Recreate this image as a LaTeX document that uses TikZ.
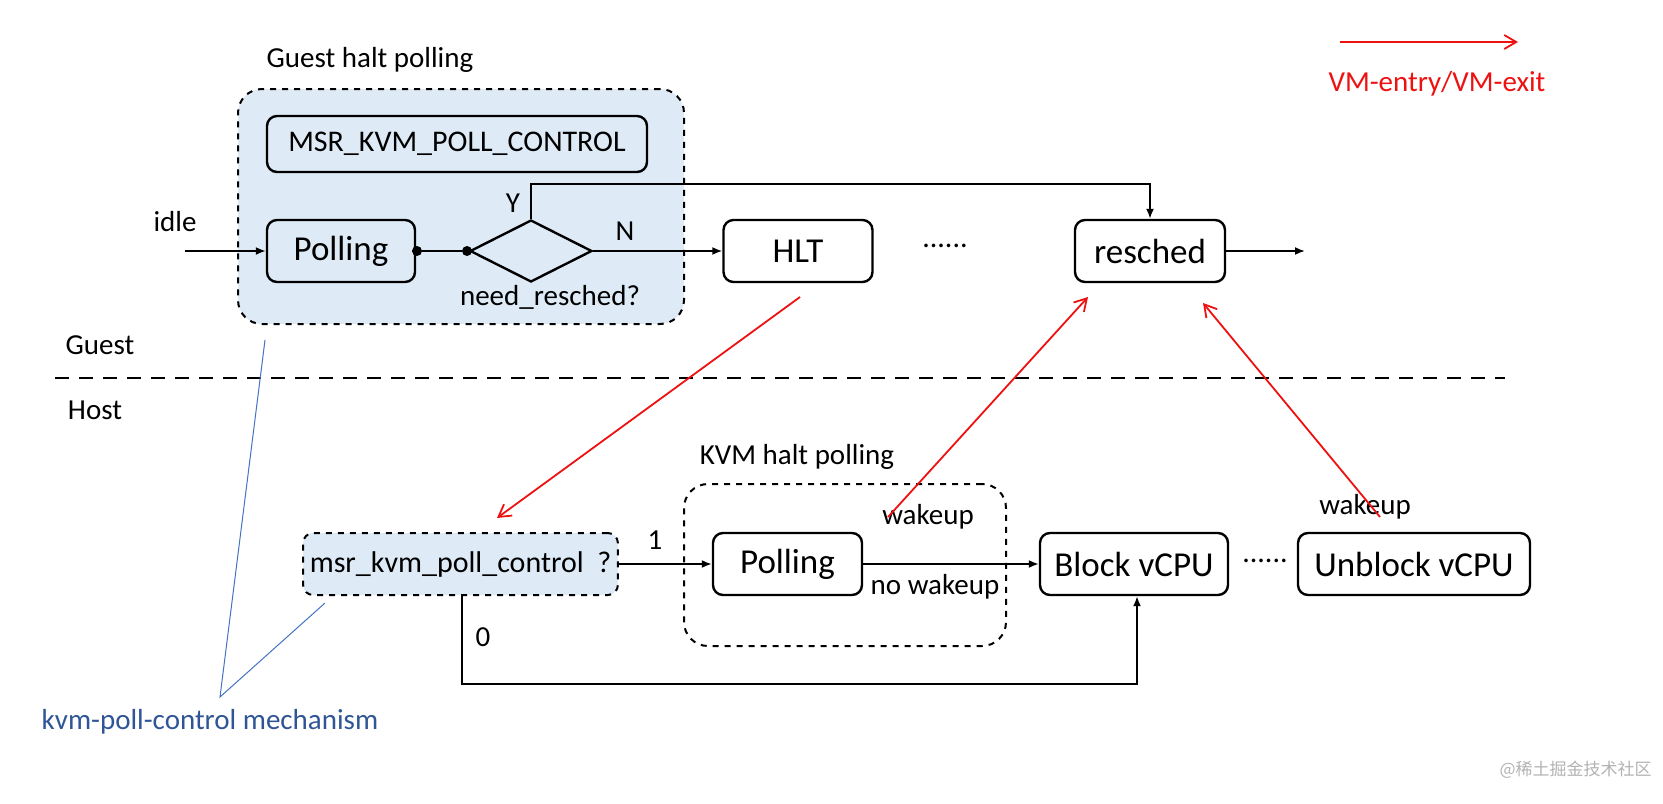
\documentclass[tikz,border=0pt]{standalone}
\usepackage{fontspec}
\setmainfont{Carlito}
\newfontfamily\cjk{Noto Sans CJK SC}
\usetikzlibrary{shapes.geometric,arrows.meta}
\definecolor{fillb}{HTML}{DEEBF7}
\definecolor{redc}{HTML}{EE1111}
\definecolor{bluel}{HTML}{4472C4}
\definecolor{bluet}{HTML}{2F5597}
\begin{document}
\begin{tikzpicture}[x=0.5pt,y=-0.5pt,
 box/.style={draw,line width=1.2pt,rounded corners=5pt,font=\fontsize{17.5}{19}\selectfont},
 dbox/.style={draw,dashed,line width=1pt,rounded corners=12pt},
 lbl/.style={font=\fontsize{14.5}{16}\selectfont},
 arr/.style={line width=0.9pt,-{Latex[length=5pt,width=4pt]}},
 rarr/.style={redc,line width=0.9pt,-{Straight Barb[length=6pt,width=7pt]}},
 dot/.style={circle,fill,inner sep=0pt,minimum size=5pt}]
\useasboundingbox (0,0) rectangle (1663,803);
% guest box
\node[dbox,fill=fillb,minimum width=223pt,minimum height=117.5pt,anchor=north west] (gbox) at (237,88) {};
\node[lbl] (gt) at (370,60) {Guest halt polling};
\node[box,minimum width=190pt,minimum height=28pt,font=\fontsize{15}{17}\selectfont] (msr) at (457,144) {MSR\_KVM\_POLL\_CONTROL};
\node[box,minimum width=74pt,minimum height=31pt] (gpoll) at (341,251) {Polling};
\node[dot] (d1) at (417,251) {};
\node[dot] (d2) at (467,251) {};
\node[draw,diamond,line width=1.2pt,minimum width=61pt,minimum height=31pt,inner sep=0pt,aspect=2] (dia) at (531,251) {};
\node[lbl] (yl) at (513,203) {Y};
\node[lbl] (nl) at (625,231) {N};
\node[lbl] (nr) at (550,297) {need\_resched?};
\node[lbl] (idle) at (175,222) {idle};
\coordinate (idst) at (185,251);
\node[box,minimum width=74.5pt,minimum height=31pt] (hlt) at (798,251) {HLT};
\node[font=\fontsize{15}{17}\selectfont] (dots1) at (945,246) {......};
\node[box,minimum width=75pt,minimum height=31pt] (res) at (1150,251) {resched};
\coordinate (resout) at (1305,251);
\draw[arr] (idst) -- (gpoll.west);
\draw[line width=0.9pt] (gpoll.east) -- (d1) -- (d2) -- (dia.west);
\draw[arr] (dia.east) -- (hlt.west);
\draw[arr] (dia.north) |- (1150,184) -- (res.north);
\draw[arr] (res.east) -- (resout);
% legend
\coordinate (lg1) at (1340,42); \coordinate (lg2) at (1518,42);
\draw[rarr] (lg1) -- (lg2);
\node[lbl,text=redc] (lgt) at (1437,84) {VM-entry/VM-exit};
% divider
\draw[dashed,line width=1pt,dash pattern=on 7pt off 5pt] (55,378) coordinate (dv1) -- (1505,378) coordinate (dv2);
\node[lbl] (guest) at (100,345) {Guest};
\node[lbl] (host) at (95,410) {Host};
% host
\node[dbox,minimum width=161pt,minimum height=81pt,anchor=north west] (kbox) at (683,483) {};
\node[lbl] (kt) at (797,457) {KVM halt polling};
\node[draw,dashed,line width=1pt,rounded corners=5pt,fill=fillb,minimum width=156.5pt,minimum height=31pt,font=\fontsize{15}{17}\selectfont] (mk) at (460.5,564) {msr\_kvm\_poll\_control~~?};
\node[box,minimum width=74.5pt,minimum height=31pt] (hpoll) at (787.5,564) {Polling};
\node[box,minimum width=94pt,minimum height=31pt] (blk) at (1134,564) {Block vCPU};
\node[font=\fontsize{15}{17}\selectfont] (dots2) at (1265,561) {......};
\node[box,minimum width=116pt,minimum height=31pt] (unb) at (1414,564) {Unblock vCPU};
\node[lbl] (one) at (655,540) {1};
\node[lbl] (zero) at (483,637) {0};
\node[lbl] (nw) at (935,587) {no wakeup};
\node[lbl] (wk1) at (928,517) {wakeup};
\node[lbl] (wk2) at (1365,507) {wakeup};
\draw[arr] (mk.east) -- (hpoll.west);
\draw[arr] (hpoll.east) -- (blk.west);
\draw[arr] (mk.south -| 462,0) -- (462,684) -- (1137,684) -- (blk.south -| 1137,0);
% red
\draw[rarr] (800,297) coordinate (r1) -- (497,518) coordinate (r2);
\draw[rarr] (888,517) coordinate (r3) -- (1088,297) coordinate (r4);
\draw[rarr] (1380,517) coordinate (r5) -- (1203,303) coordinate (r6);
% blue annotation
\coordinate (ba) at (220,697);
\draw[bluel,line width=0.5pt] (265,340) -- (ba) -- (325,603);
\node[lbl,text=bluet] (bt) at (210,722) {kvm-poll-control mechanism};
\node[text=gray!60,font=\cjk\fontsize{8.5}{10}\selectfont,anchor=east,inner sep=0pt] (wm) at (1652,770) {@稀土掘金技术社区};
\end{tikzpicture}
\end{document}
